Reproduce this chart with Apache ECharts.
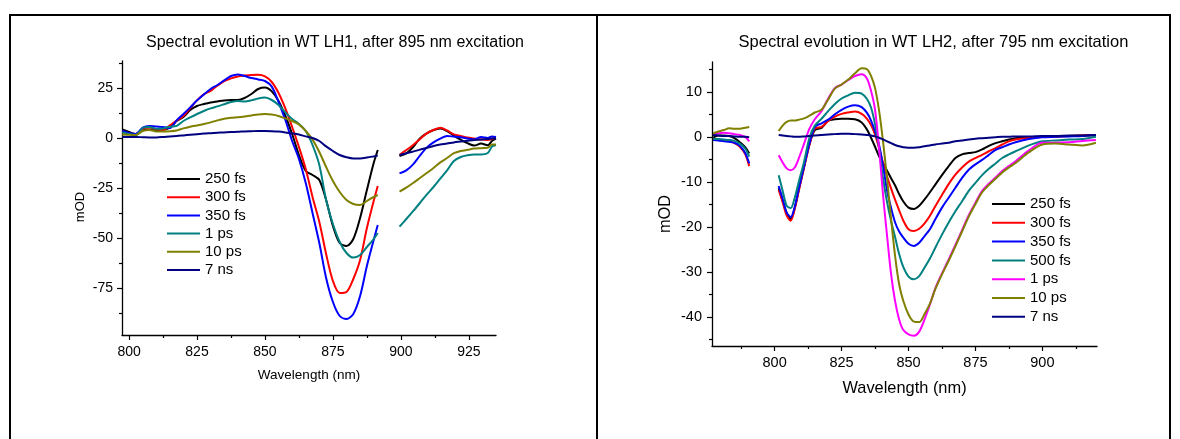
<!DOCTYPE html>
<html><head><meta charset="utf-8">
<script src="https://cdn.jsdelivr.net/npm/echarts@6/dist/echarts.min.js"></script>
<style>html,body{margin:0;padding:0;background:#fff}#c{width:1180px;height:439px}</style>
</head><body><div id="c"></div>
<script>
const FONT = '"Liberation Sans", Arial, Helvetica, sans-serif';

// ---------- Panel 1: WT LH1 ----------
const lh1Title = 'Spectral evolution in WT LH1, after 895 nm excitation';
const lh1Labels = ['250 fs', '300 fs', '350 fs', '1 ps', '10 ps', '7 ns'];
const lh1Colors = ['#000000', '#ff0000', '#0000ff', '#008080', '#808000', '#000080'];
// wavelength (nm); 895 is the gap (scatter of excitation pulse)
const lh1Wavelength = [797.5,800,802.5,805,807.5,810,812.5,815,817.5,820,822.5,825,827.5,830,832.5,835,837.5,840,842.5,845,847.5,850,852.5,855,857.5,860,862.5,865,867.5,870,872.5,875,877.5,880,882.5,885,887.5,890,891.5,
  895,
  899.5,902,904.5,907,909.5,912,914.5,917,919.5,922,924.5,927,929.5,932,933.5,935];
const lh1_250fs = [4.3,3.0,2.0,3.8,4.2,3.7,4.0,5.2,8.5,10.5,14.0,16.0,17.0,17.8,18.3,18.8,19.0,19.0,20.0,22.0,24.5,25.2,23.3,18.5,11.0,2.0,-8.5,-16.5,-18.5,-21.0,-31.0,-44.0,-52.5,-54.0,-50.5,-40.0,-26.0,-12.5,-6.0,
  null,
  -9.0,-7.7,-4.5,-0.2,2.3,4.0,4.8,3.5,1.2,-0.8,-2.6,-3.8,-2.8,-3.6,-1.5,-0.3];
const lh1_300fs = [3.2,2.3,2.0,4.6,5.2,4.4,4.0,6.3,8.7,11.0,15.0,18.8,21.8,23.6,26.2,28.5,29.8,30.8,31.2,31.5,31.6,30.8,28.0,22.5,14.8,5.5,-4.5,-15.5,-29.5,-42.0,-58.0,-71.5,-77.5,-77.0,-70.5,-61.0,-45.0,-31.5,-24.0,
  null,
  -8.5,-6.0,-3.5,-0.6,2.3,4.0,5.1,3.8,1.8,1.0,0.2,-0.3,-0.8,-1.0,-0.5,0.2];
const lh1_350fs = [3.5,2.5,2.0,5.2,6.0,5.7,5.5,5.0,8.8,12.0,15.3,18.8,21.8,24.5,26.5,28.8,31.0,31.8,31.0,30.0,29.3,28.5,25.7,18.0,9.0,-1.5,-10.5,-22.5,-37.5,-52.5,-70.0,-82.0,-89.0,-90.5,-88.0,-79.0,-64.0,-51.0,-43.5,
  null,
  -17.7,-16.2,-13.2,-8.8,-4.8,-2.2,-0.3,1.0,0.7,0.4,-0.2,-0.7,0.5,0.0,0.8,0.5];
const lh1_1ps = [2.8,2.0,1.5,5.0,5.5,4.6,4.8,5.6,6.1,8.5,10.3,12.0,13.5,14.8,15.8,16.9,18.0,18.5,18.2,18.8,19.8,20.2,19.0,16.5,12.8,9.5,7.0,3.5,-3.5,-13.5,-31.0,-43.0,-52.0,-57.5,-59.8,-58.5,-54.5,-50.5,-47.5,
  null,
  -44.3,-40.5,-36.6,-32.5,-28.3,-24.5,-20.3,-16.2,-11.5,-9.5,-8.6,-8.2,-8.3,-7.5,-4.3,-3.5];
const lh1_10ps = [1.8,1.6,1.5,3.5,4.0,3.3,3.2,3.4,3.8,4.8,5.6,6.3,7.0,7.8,8.8,9.6,10.1,10.4,10.8,11.3,11.8,12.0,11.7,11.0,9.8,8.5,6.8,3.5,-0.8,-7.0,-14.5,-21.5,-27.0,-31.0,-33.0,-33.5,-31.5,-29.5,-28.5,
  null,
  -26.8,-24.8,-22.5,-20.0,-17.5,-15.0,-12.2,-10.0,-7.6,-6.5,-5.9,-5.3,-5.1,-4.8,-3.2,-3.2];
const lh1_7ns = [0.5,0.5,0.5,0.4,0.3,0.3,0.5,0.8,1.0,1.3,1.6,1.9,2.2,2.4,2.6,2.8,3.0,3.1,3.3,3.4,3.5,3.5,3.4,3.2,2.8,2.3,1.7,0.8,0.0,-1.5,-4.2,-6.5,-8.5,-9.6,-10.2,-10.2,-9.8,-9.2,-8.8,
  null,
  -8.5,-7.6,-6.8,-5.8,-5.0,-4.0,-3.3,-2.8,-2.2,-1.8,-1.4,-1.0,-0.7,-0.5,-0.3,-0.2];
const lh1Values = [lh1_250fs, lh1_300fs, lh1_350fs, lh1_1ps, lh1_10ps, lh1_7ns];
const lh1XTicks = [800, 825, 850, 875, 900, 925];
const lh1XMinor = [812.5, 837.5, 862.5, 887.5, 912.5];
const lh1YTicks = [-75, -50, -25, 0, 25];
const lh1YMinor = [-87.5, -62.5, -37.5, -12.5, 12.5, 37.5];

// ---------- Panel 2: WT LH2 ----------
const lh2Title = 'Spectral evolution in WT LH2, after 795 nm excitation';
const lh2Labels = ['250 fs', '300 fs', '350 fs', '500 fs', '1 ps', '10 ps', '7 ns'];
const lh2Colors = ['#000000', '#ff0000', '#0000ff', '#008080', '#ff00ff', '#808000', '#000080'];
// wavelength (nm); 796 is the gap (scatter of excitation pulse)
const lh2Wavelength = [777,779,781,783,785,787,789,790.5,
  796,
  801.5,803,804.5,806,807.5,809,811,813,815,817.5,820,822.5,825,827.5,830,832.5,834.5,836,837.5,839,840.5,842,843.5,845,846.5,848,850,852,854,856,858,860,862.5,865,867.5,870,872.5,875,877.5,880,882.5,885,887.5,890,895,900,905,910,915,920];
const lh2_250fs = [-0.2,0.3,0.3,0.2,-0.3,-1.2,-2.3,-3.7,
  null,
  -11.4,-14.2,-17.0,-18.2,-15.8,-11.8,-6.6,-1.6,1.5,2.0,3.6,3.9,4.0,4.0,3.9,3.2,1.6,-0.2,-2.2,-4.3,-5.9,-7.5,-9.2,-10.8,-12.7,-14.3,-15.7,-16.0,-15.3,-13.9,-12.3,-10.6,-8.5,-6.5,-4.7,-3.9,-3.6,-3.4,-2.8,-2.0,-1.4,-1.0,-0.6,-0.3,-0.1,0.0,0.1,0.2,0.3,0.4];
const lh2_300fs = [-0.5,-0.7,-0.9,-1.0,-1.4,-2.2,-3.8,-6.5,
  null,
  -11.8,-14.5,-17.5,-18.6,-16.0,-12.0,-6.8,-1.8,1.8,2.2,3.5,4.5,5.1,5.4,5.6,5.1,4.0,2.6,0.5,-2.5,-5.8,-8.8,-11.5,-14.0,-16.3,-18.5,-20.5,-20.9,-20.4,-19.2,-17.5,-15.4,-12.9,-10.5,-8.4,-6.8,-5.5,-4.7,-4.0,-3.2,-2.5,-1.7,-1.0,-0.6,-0.2,0.0,0.1,0.2,0.3,0.4];
const lh2_350fs = [-0.7,-0.8,-1.0,-1.1,-1.3,-2.0,-3.6,-5.9,
  null,
  -10.9,-13.8,-16.8,-17.8,-15.5,-11.5,-6.5,-1.5,2.2,3.0,3.8,5.0,6.0,6.7,7.0,6.6,5.3,3.6,1.2,-1.8,-6.5,-12.0,-15.8,-19.0,-21.0,-22.3,-23.7,-24.2,-23.5,-22.0,-20.5,-18.3,-15.7,-13.5,-11.3,-9.1,-7.3,-6.1,-5.1,-4.0,-2.9,-2.3,-1.7,-1.2,-0.5,-0.1,0.0,0.1,0.2,0.4];
const lh2_500fs = [-0.4,-0.5,-0.6,-0.7,-0.9,-1.5,-2.6,-4.4,
  null,
  -8.5,-12.0,-15.3,-15.8,-13.5,-10.0,-5.5,-0.2,2.5,4.0,5.7,7.3,8.5,9.2,9.8,9.6,8.4,6.5,2.8,-2.5,-9.3,-14.5,-18.7,-22.3,-26.0,-28.8,-31.0,-31.6,-30.9,-29.0,-27.0,-24.6,-21.7,-19.0,-16.5,-14.3,-12.0,-10.2,-8.5,-7.1,-5.9,-4.7,-3.9,-3.2,-1.9,-1.0,-0.8,-0.6,-0.5,0.0];
const lh2_1ps = [0.4,0.8,0.9,0.8,0.6,0.4,0.0,-1.0,
  null,
  -4.1,-5.7,-7.0,-7.4,-6.8,-4.8,-1.5,1.8,3.9,5.7,8.5,10.8,11.6,12.6,13.5,13.9,12.9,10.2,6.0,-2.5,-13.0,-22.0,-30.5,-36.5,-40.5,-42.8,-43.8,-44.1,-43.2,-40.5,-37.2,-33.6,-30.3,-27.2,-24.0,-20.7,-17.4,-14.6,-12.0,-10.4,-9.0,-7.6,-6.5,-5.4,-3.0,-1.3,-1.3,-1.2,-0.9,-0.7];
const lh2_10ps = [0.8,1.2,1.5,1.9,1.8,1.8,2.0,2.2,
  null,
  1.3,2.5,3.3,3.6,3.6,3.8,4.1,4.7,5.4,6.0,8.3,10.7,11.6,12.7,14.1,15.2,15.0,13.5,10.8,5.8,-1.1,-9.3,-18.3,-26.5,-32.7,-36.3,-39.4,-41.0,-41.1,-39.3,-37.0,-33.8,-30.5,-27.5,-24.3,-21.0,-17.7,-14.9,-12.3,-10.7,-9.3,-7.9,-6.8,-5.8,-3.4,-1.7,-1.5,-1.7,-1.9,-1.3];
const lh2_7ns = [0.4,0.3,0.2,0.2,0.1,0.0,0.0,-0.1,
  null,
  0.4,0.3,0.2,0.1,0.0,0.0,0.1,0.2,0.3,0.4,0.5,0.6,0.7,0.7,0.6,0.5,0.4,0.3,0.1,-0.2,-0.6,-1.0,-1.4,-1.8,-2.1,-2.3,-2.4,-2.4,-2.3,-2.1,-1.9,-1.7,-1.5,-1.3,-1.0,-0.8,-0.6,-0.4,-0.3,-0.2,-0.1,0.0,0.0,0.1,0.1,0.2,0.2,0.3,0.3,0.4];
const lh2Values = [lh2_250fs, lh2_300fs, lh2_350fs, lh2_500fs, lh2_1ps, lh2_10ps, lh2_7ns];
const lh2XTicks = [800, 825, 850, 875, 900];
const lh2XMinor = [787.5, 812.5, 837.5, 862.5, 887.5, 912.5];
const lh2YTicks = [-40, -30, -20, -10, 0, 10];
const lh2YMinor = [-45, -35, -25, -15, -5, 5, 15];

// ---------- build option ----------
const AXIS_COLOR = '#000';
const LEGEND_ICON = 'path://M0 0 M0 6.5 L33 6.5 L33 8.5 L0 8.5 Z M33 15';

function pairs(xs, ys) { return xs.map((x, i) => [x, ys[i] === null ? '-' : ys[i]]); }

function mainX(grid, min, max, ticks, fs, margin, nameFs, nameGap) {
  return {
    type: 'value', gridIndex: grid, min: min, max: max, position: 'bottom',
    axisLine: { show: true, onZero: false, lineStyle: { color: AXIS_COLOR, width: 1.3 } },
    axisTick: { show: true, customValues: ticks, length: 5, lineStyle: { color: AXIS_COLOR, width: 1.2 } },
    axisLabel: { show: true, customValues: ticks, margin: margin, color: '#000', fontSize: fs, fontFamily: FONT },
    splitLine: { show: false },
    name: 'Wavelength (nm)', nameLocation: 'middle', nameGap: nameGap,
    nameTextStyle: { color: '#000', fontSize: nameFs, fontFamily: FONT }
  };
}
function minorX(grid, min, max, ticks) {
  return {
    type: 'value', gridIndex: grid, min: min, max: max, position: 'bottom',
    axisLine: { show: false, onZero: false },
    axisTick: { show: true, customValues: ticks, length: 3, lineStyle: { color: AXIS_COLOR, width: 1.2 } },
    axisLabel: { show: false }, splitLine: { show: false }
  };
}
function mainY(grid, min, max, ticks, fs, margin) {
  return {
    type: 'value', gridIndex: grid, min: min, max: max, position: 'left',
    axisLine: { show: true, onZero: false, lineStyle: { color: AXIS_COLOR, width: 1.3 } },
    axisTick: { show: true, customValues: ticks, length: 5, lineStyle: { color: AXIS_COLOR, width: 1.2 } },
    axisLabel: { show: true, customValues: ticks, margin: margin, color: '#000', fontSize: fs, fontFamily: FONT },
    splitLine: { show: false }
  };
}
function minorY(grid, min, max, ticks) {
  return {
    type: 'value', gridIndex: grid, min: min, max: max, position: 'left',
    axisLine: { show: false, onZero: false },
    axisTick: { show: true, customValues: ticks, length: 3, lineStyle: { color: AXIS_COLOR, width: 1.2 } },
    axisLabel: { show: false }, splitLine: { show: false }
  };
}

const series = [];
lh1Labels.forEach((lab, i) => series.push({
  name: 'L|' + lab, type: 'line', xAxisIndex: 0, yAxisIndex: 0,
  data: pairs(lh1Wavelength, lh1Values[i]),
  symbol: 'none', showSymbol: false, smooth: 0.3, connectNulls: false,
  lineStyle: { width: 2, color: lh1Colors[i] }, itemStyle: { color: lh1Colors[i] },
  emphasis: { disabled: true }
}));
lh2Labels.forEach((lab, i) => series.push({
  name: 'R|' + lab, type: 'line', xAxisIndex: 2, yAxisIndex: 2,
  data: pairs(lh2Wavelength, lh2Values[i]),
  symbol: 'none', showSymbol: false, smooth: 0.3, connectNulls: false,
  lineStyle: { width: 2, color: lh2Colors[i] }, itemStyle: { color: lh2Colors[i] },
  emphasis: { disabled: true }
}));

function legend(names, left, top, gap) {
  return {
    orient: 'vertical', left: left, top: top, padding: 0,
    itemWidth: 33, itemHeight: 15, itemGap: gap, icon: LEGEND_ICON,
    selectedMode: false,
    data: names,
    formatter: n => n.slice(2),
    itemStyle: { borderWidth: 0 },
    textStyle: { color: '#000', fontSize: 15, fontFamily: FONT, lineHeight: 15 }
  };
}

const option = {
  animation: false,
  backgroundColor: '#fff',
  title: [
    { text: lh1Title, left: 335, top: 35, textAlign: 'center', padding: 0,
      textStyle: { color: '#000', fontSize: 16, fontWeight: 'normal', fontFamily: FONT } },
    { text: lh2Title, left: 933.5, top: 34, textAlign: 'center', padding: 0,
      textStyle: { color: '#000', fontSize: 16.5, fontWeight: 'normal', fontFamily: FONT } }
  ],
  grid: [
    { left: 122, top: 61, width: 374, height: 274, containLabel: false, outerBoundsMode: 'none' },
    { left: 712, top: 62, width: 385, height: 284, containLabel: false, outerBoundsMode: 'none' }
  ],
  xAxis: [
    mainX(0, 797.4, 935, lh1XTicks, 14, 10, 13.5, 33),
    minorX(0, 797.4, 935, lh1XMinor),
    mainX(1, 776.6, 920.4, lh2XTicks, 14.5, 9, 16.4, 34),
    minorX(1, 776.6, 920.4, lh2XMinor)
  ],
  yAxis: [
    mainY(0, -98.5, 38.5, lh1YTicks, 14, 9),
    minorY(0, -98.5, 38.5, lh1YMinor),
    mainY(1, -46.4, 16.6, lh2YTicks, 14.5, 10),
    minorY(1, -46.4, 16.6, lh2YMinor)
  ],
  legend: [
    legend(lh1Labels.map(l => 'L|' + l), 167, 171.5, 3.2),
    legend(lh2Labels.map(l => 'R|' + l), 992, 196.5, 3.8)
  ],
  graphic: [
    { type: 'line', shape: { x1: 9, y1: 15, x2: 1171, y2: 15 }, style: { stroke: '#000', lineWidth: 2 }, silent: true },
    { type: 'line', shape: { x1: 10, y1: 14, x2: 10, y2: 439 }, style: { stroke: '#000', lineWidth: 2 }, silent: true },
    { type: 'line', shape: { x1: 597, y1: 14, x2: 597, y2: 439 }, style: { stroke: '#000', lineWidth: 2 }, silent: true },
    { type: 'line', shape: { x1: 1170, y1: 14, x2: 1170, y2: 439 }, style: { stroke: '#000', lineWidth: 2 }, silent: true },
    { type: 'text', x: 80, y: 207, rotation: Math.PI / 2, silent: true,
      style: { text: 'mOD', fill: '#000', fontSize: 13, fontFamily: FONT, align: 'center', verticalAlign: 'middle' } },
    { type: 'text', x: 665, y: 214, rotation: Math.PI / 2, silent: true,
      style: { text: 'mOD', fill: '#000', fontSize: 16.4, fontFamily: FONT, align: 'center', verticalAlign: 'middle' } }
  ],
  series: series
};

const chart = echarts.init(document.getElementById('c'), null, { renderer: 'canvas' });
chart.setOption(option);
</script>
</body></html>
